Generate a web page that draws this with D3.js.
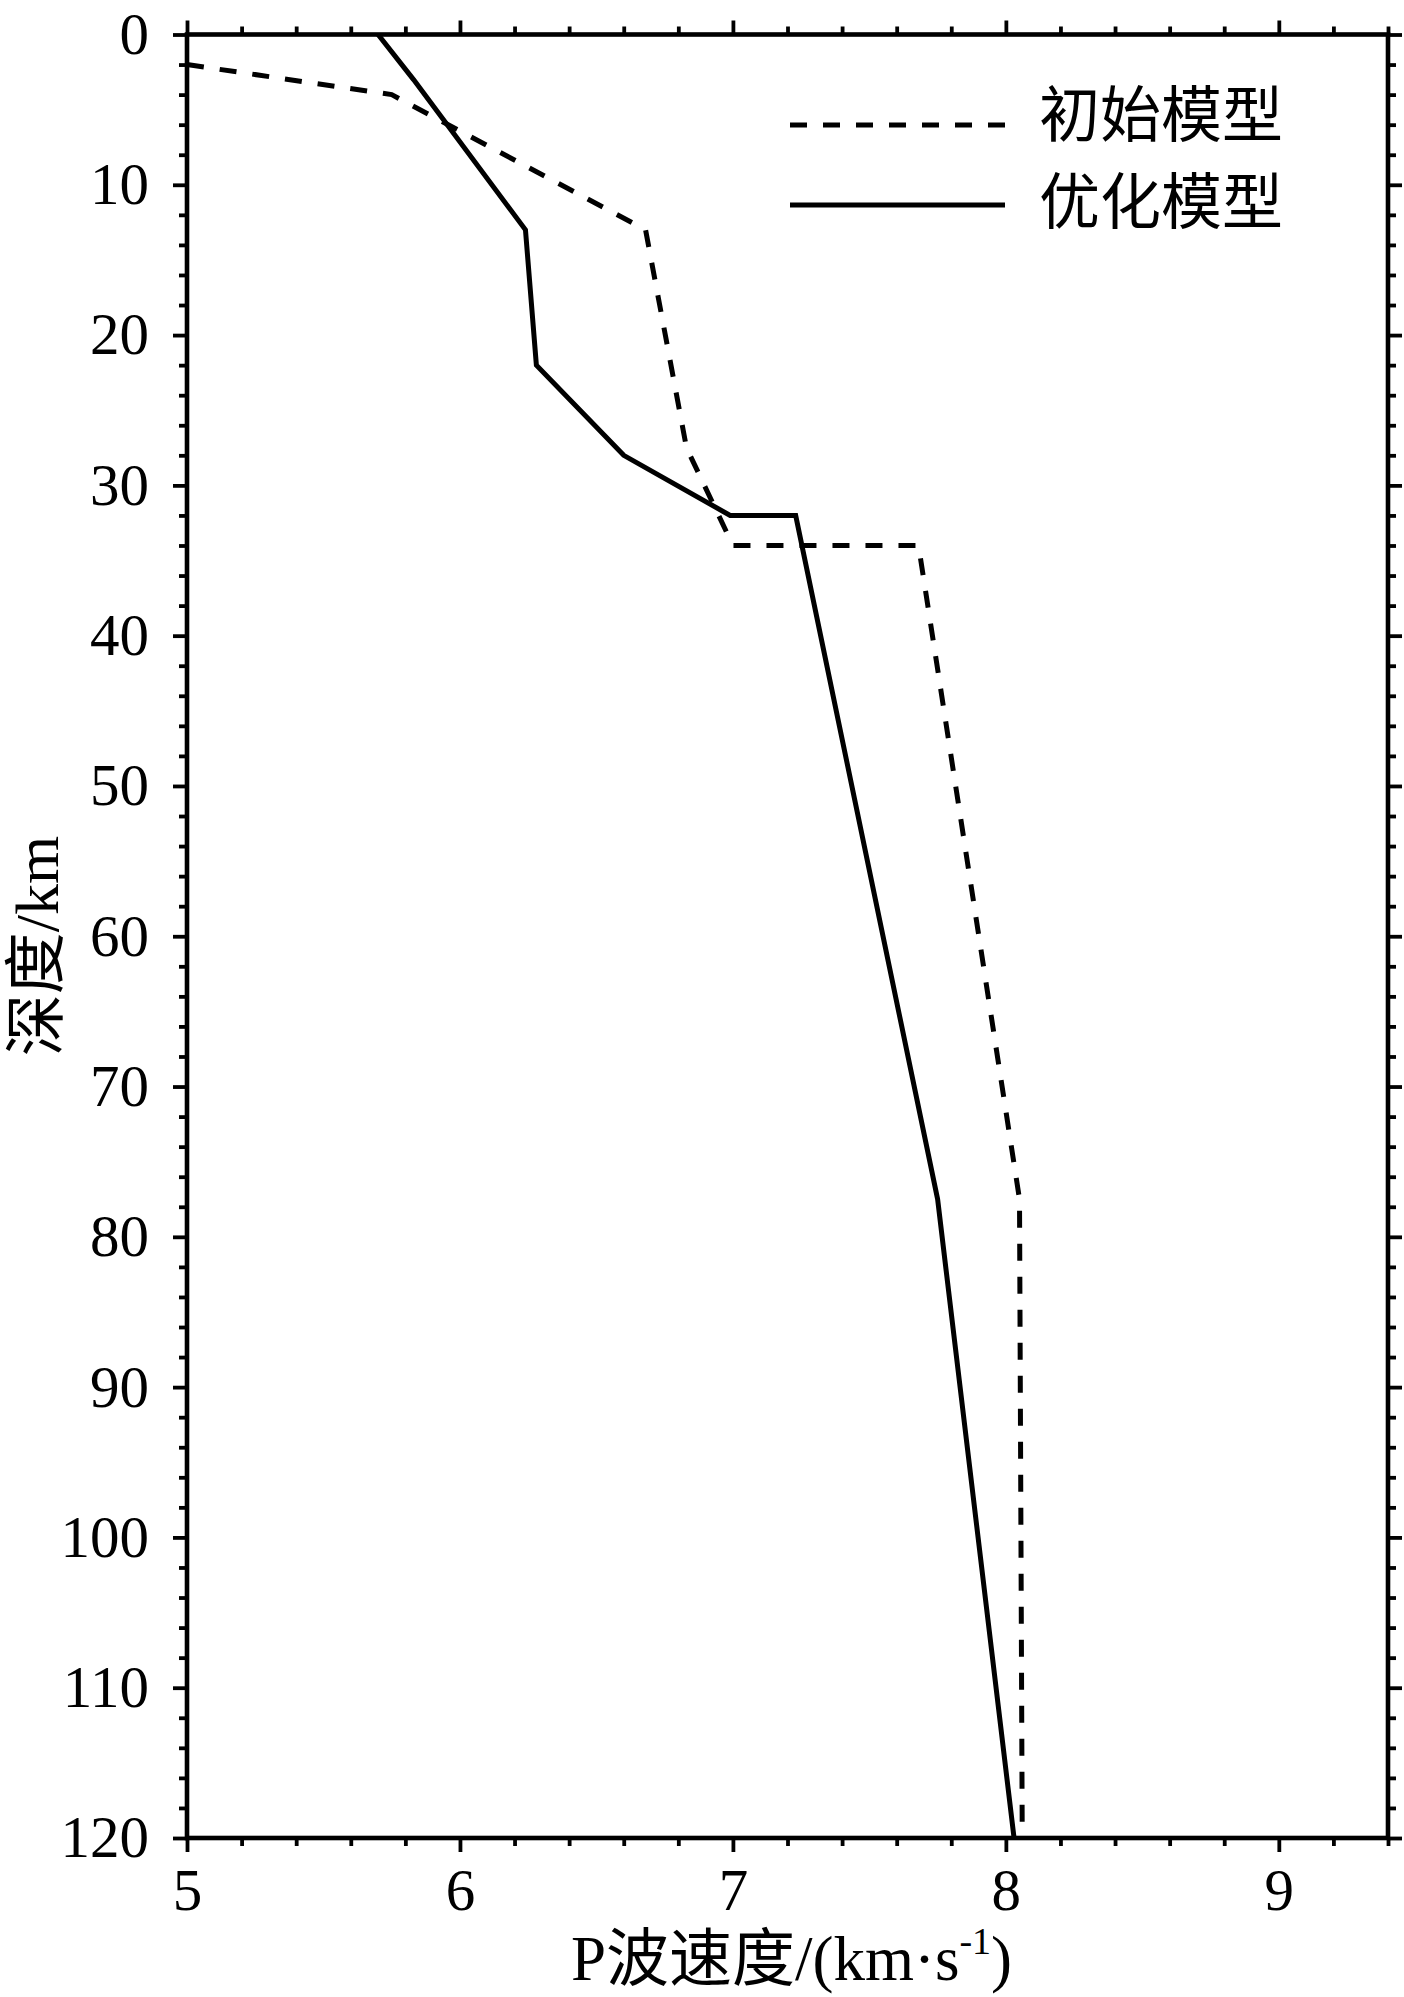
<!DOCTYPE html>
<html>
<head>
<meta charset="utf-8">
<script src="https://cdn.jsdelivr.net/npm/d3@7"></script>
<style>
  body { margin: 0; background: #fff; }
  svg { display: block; }
</style>
</head>
<body>
<svg width="1404" height="1997"></svg>
<script>
// initial model (dashed) - velocity km/s and depth km
var initVel   = [5.00, 5.75, 6.68, 6.83, 7.00, 7.68, 8.05, 8.06];
var initDepth = [2,    4,    13,   27.5, 34,   34,   77.5, 120];
// optimised model (solid)
var optVel    = [5.70, 5.83, 6.24, 6.28, 6.60, 6.99, 7.23, 7.75, 8.03];
var optDepth  = [0,    3,    13,   22,   28,   32,   32,   77.5, 120];

var xMajor = [5, 6, 7, 8, 9];
var yMajor = [0, 10, 20, 30, 40, 50, 60, 70, 80, 90, 100, 110, 120];
var legendNames = ["初始模型", "优化模型"];

var svg = d3.select("svg"),
    width = +svg.attr("width"),
    height = +svg.attr("height");

var serif = "Liberation Serif, Noto Sans CJK SC, serif";

svg.append("rect").attr("width", width).attr("height", height).attr("fill", "#fff");

var x = d3.scaleLinear().domain([5, 9.4]).range([187, 1388]);
var y = d3.scaleLinear().domain([0, 120]).range([34.5, 1838]);

var xMinor = d3.range(25, 48).filter(function(i) { return i % 5 != 0; }).map(function(i) { return i / 5; });
var yMinor = d3.range(0, 121, 2).filter(function(v) { return v % 10 != 0; });

var majorLen = 14, minorLen = 8;

function styleAxis(g) {
  g.select(".domain").remove();
  g.selectAll("line").attr("stroke", "#000").attr("stroke-width", 3.8);
  g.selectAll("text").attr("fill", "#000");
  g.attr("font-family", serif).attr("font-size", 59);
}

// bottom axis with labels
svg.append("g").attr("transform", "translate(0," + y(120) + ")")
  .call(d3.axisBottom(x).tickValues(xMajor).tickSize(majorLen).tickPadding(16).tickFormat(d3.format("d")))
  .call(styleAxis);
svg.append("g").attr("transform", "translate(0," + y(120) + ")")
  .call(d3.axisBottom(x).tickValues(xMinor).tickSize(minorLen).tickFormat(""))
  .call(styleAxis);
// top axis
svg.append("g").attr("transform", "translate(0," + y(0) + ")")
  .call(d3.axisTop(x).tickValues(xMajor).tickSize(majorLen).tickFormat(""))
  .call(styleAxis);
svg.append("g").attr("transform", "translate(0," + y(0) + ")")
  .call(d3.axisTop(x).tickValues(xMinor).tickSize(minorLen).tickFormat(""))
  .call(styleAxis);
// left axis with labels
svg.append("g").attr("transform", "translate(" + x(5) + ",0)")
  .call(d3.axisLeft(y).tickValues(yMajor).tickSize(majorLen).tickPadding(24).tickFormat(d3.format("d")))
  .call(styleAxis);
svg.append("g").attr("transform", "translate(" + x(5) + ",0)")
  .call(d3.axisLeft(y).tickValues(yMinor).tickSize(minorLen).tickFormat(""))
  .call(styleAxis);
// right axis
svg.append("g").attr("transform", "translate(" + x(9.4) + ",0)")
  .call(d3.axisRight(y).tickValues(yMajor).tickSize(majorLen).tickFormat(""))
  .call(styleAxis);
svg.append("g").attr("transform", "translate(" + x(9.4) + ",0)")
  .call(d3.axisRight(y).tickValues(yMinor).tickSize(minorLen).tickFormat(""))
  .call(styleAxis);

// frame
svg.append("rect")
  .attr("x", x(5)).attr("y", y(0))
  .attr("width", x(9.4) - x(5)).attr("height", y(120) - y(0))
  .attr("fill", "none").attr("stroke", "#000").attr("stroke-width", 4.6);

var line = d3.line()
  .x(function(d) { return x(d[0]); })
  .y(function(d) { return y(d[1]); });

var initPts = initVel.map(function(v, i) { return [v, initDepth[i]]; });
var optPts = optVel.map(function(v, i) { return [v, optDepth[i]]; });

svg.append("path").datum(initPts)
  .attr("d", line)
  .attr("fill", "none").attr("stroke", "#000").attr("stroke-width", 5)
  .attr("stroke-dasharray", "17,16");

svg.append("path").datum(optPts)
  .attr("d", line)
  .attr("fill", "none").attr("stroke", "#000").attr("stroke-width", 5);

// legend
var legY = [125, 205];
legendNames.forEach(function(name, i) {
  svg.append("line")
    .attr("x1", 790).attr("x2", 1005)
    .attr("y1", legY[i]).attr("y2", legY[i])
    .attr("stroke", "#000").attr("stroke-width", 5)
    .attr("stroke-dasharray", i == 0 ? "17,16" : null);
  svg.append("text")
    .attr("x", 1039).attr("y", legY[i] + 12 + (i == 0 ? 0 : 7))
    .attr("font-family", "Noto Sans CJK SC, sans-serif")
    .attr("font-size", 61)
    .attr("fill", "#000")
    .text(name);
});

// axis titles
var xt = svg.append("text")
  .attr("x", (x(5) + x(9.4)) / 2 + 4).attr("y", 1980)
  .attr("text-anchor", "middle")
  .attr("font-family", serif).attr("font-size", 63)
  .attr("fill", "#000");
xt.append("tspan").text("P波速度/(km·s");
xt.append("tspan").attr("font-size", 38).attr("dy", -26).text("-1");
xt.append("tspan").attr("dy", 26).text(")");

svg.append("text")
  .attr("transform", "translate(58," + 946 + ") rotate(-90)")
  .attr("text-anchor", "middle")
  .attr("font-family", serif).attr("font-size", 62)
  .attr("fill", "#000")
  .text("深度/km");
</script>
</body>
</html>
